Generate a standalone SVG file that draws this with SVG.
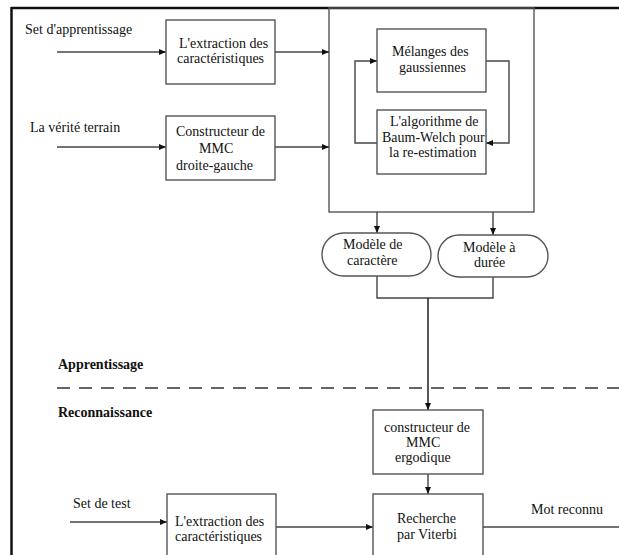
<svg xmlns="http://www.w3.org/2000/svg" width="619" height="555" viewBox="0 0 619 555" font-family="'Liberation Serif', 'Times New Roman', serif" font-size="14">
<defs>
<marker id="arr" markerUnits="userSpaceOnUse" markerWidth="7" markerHeight="6" refX="7" refY="3" orient="auto">
<path d="M0,0 L7,3 L0,6 z" fill="#111"/>
</marker>
<style>
text{fill:#111}
.b{font-weight:bold}
.box{fill:#fff;stroke:#555;stroke-width:1.4}
.ln{fill:none;stroke:#444;stroke-width:1.4}
.ar{fill:none;stroke:#444;stroke-width:1.4;marker-end:url(#arr)}
</style>
</defs>
<rect width="619" height="555" fill="#fff"/>

<g id="frame">
<line x1="11" y1="8" x2="619" y2="8" stroke="#111" stroke-width="2.5"/>
<line x1="11.5" y1="7" x2="11.5" y2="555" stroke="#111" stroke-width="2.5"/>
</g>

<g id="training-block">
<rect x="329" y="8" width="205" height="204" fill="none" stroke="#555" stroke-width="1.4"/>
</g>

<g id="labels">
<text x="25" y="34">Set d'apprentissage</text>
<text x="30" y="132">La vérité terrain</text>
<text class="b" x="58" y="369">Apprentissage</text>
<text class="b" x="58" y="417">Reconnaissance</text>
<text x="73" y="508">Set de test</text>
<text x="531" y="514">Mot reconnu</text>
</g>

<line id="separator" x1="57" y1="388" x2="619" y2="388" stroke="#666" stroke-width="2" stroke-dasharray="13 9"/>

<g id="connectors">
<line class="ar" x1="57" y1="52" x2="166" y2="52"/>
<line class="ar" x1="57" y1="147" x2="166" y2="147"/>
<line class="ar" x1="275" y1="52" x2="329" y2="52"/>
<line class="ar" x1="275" y1="147" x2="329" y2="147"/>
<polyline class="ar" points="377,143 355,143 355,61 377,61"/>
<polyline class="ar" points="486,61 509,61 509,143 486,143"/>
<line class="ar" x1="377" y1="212" x2="377" y2="233"/>
<line class="ar" x1="493" y1="212" x2="493" y2="235"/>
<polyline class="ln" points="377,276 377,298 493,298 493,277"/>
<line class="ar" x1="428" y1="298" x2="428" y2="410" style="stroke:#111"/>
<line class="ar" x1="428" y1="474" x2="428" y2="494"/>
<line class="ar" x1="70" y1="522" x2="167" y2="522"/>
<line class="ar" x1="276" y1="527" x2="373" y2="527"/>
<line class="ln" x1="483" y1="527" x2="619" y2="527"/>
</g>

<g id="extraction-train">
<rect class="box" x="166" y="20" width="109" height="64"/>
<text x="179" y="48">L'extraction des</text>
<text x="177" y="63">caractéristiques</text>
</g>

<g id="constructeur-dg">
<rect class="box" x="166" y="116" width="109" height="64"/>
<text x="176" y="136">Constructeur de</text>
<text x="199" y="153">MMC</text>
<text x="176" y="170">droite-gauche</text>
</g>

<g id="melanges">
<rect class="box" x="377" y="29" width="109" height="63"/>
<text x="392" y="56">Mélanges des</text>
<text x="399" y="72">gaussiennes</text>
</g>

<g id="baum-welch">
<rect class="box" x="377" y="110" width="109" height="64"/>
<text x="390" y="126">L'algorithme de</text>
<text x="382" y="142">Baum-Welch pour</text>
<text x="389" y="157">la re-estimation</text>
</g>

<g id="modele-caractere">
<rect class="box" x="322" y="233" width="109" height="43" rx="21.5" ry="21.5"/>
<text x="343" y="249">Modèle de</text>
<text x="347" y="265">caractère</text>
</g>

<g id="modele-duree">
<rect class="box" x="438" y="235" width="110" height="42" rx="21" ry="21"/>
<text x="463" y="252">Modèle à</text>
<text x="474" y="267">durée</text>
</g>

<g id="constructeur-ergo">
<rect class="box" x="373" y="410" width="110" height="64"/>
<text x="384" y="432">constructeur de</text>
<text x="406" y="447">MMC</text>
<text x="395" y="462">ergodique</text>
</g>

<g id="extraction-test">
<rect class="box" x="167" y="494" width="109" height="70"/>
<text x="175" y="526">L'extraction des</text>
<text x="175" y="541">caractéristiques</text>
</g>

<g id="viterbi">
<rect class="box" x="373" y="494" width="110" height="70"/>
<text x="397" y="523">Recherche</text>
<text x="397" y="539">par Viterbi</text>
</g>
</svg>
